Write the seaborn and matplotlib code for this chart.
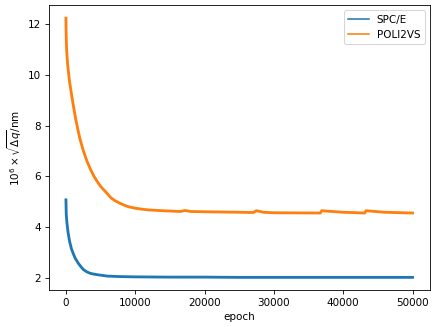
import numpy as np
import pandas as pd
import matplotlib
matplotlib.use("Agg")
import matplotlib.pyplot as plt
import seaborn as sns

# values (epoch, 10^6 x sqrt(dq)/nm)
spce_epoch = [0, 50, 150, 300, 530, 800, 1100, 1330, 1800, 2200, 2520, 3000,
              3500, 4000, 4900, 6000, 8000, 10000, 15000, 20000, 25000, 30000,
              35000, 40000, 45000, 50000]
spce_val = [5.07, 4.48, 4.15, 3.80, 3.43, 3.13, 2.92, 2.77, 2.56, 2.42, 2.32, 2.23,
            2.17, 2.14, 2.10, 2.06, 2.04, 2.03, 2.02, 2.02, 2.01, 2.01,
            2.01, 2.01, 2.01, 2.01]

poli_epoch = [0, 30, 100, 250, 530, 1000, 1470, 2000, 2500, 3000, 3500, 4000,
              4500, 5000, 5850, 6500, 7000, 7750, 8500, 9000, 10000, 11000,
              12000, 14000, 16500, 17200, 18000, 20000, 25000, 27000, 27500,
              28500, 30000, 36700, 36900, 40000, 43100, 43300, 46000, 50000]
poli_val = [12.24, 11.60, 11.00, 10.40, 9.72, 8.90, 8.17, 7.50, 7.02, 6.62, 6.30, 6.02,
            5.80, 5.60, 5.35, 5.15, 5.05, 4.94, 4.85, 4.80, 4.74, 4.70,
            4.67, 4.64, 4.61, 4.65, 4.61, 4.60, 4.58, 4.57, 4.64,
            4.58, 4.56, 4.55, 4.64, 4.58, 4.55, 4.64, 4.58, 4.55]

fig, ax = plt.subplots(figsize=(436 / 75, 327 / 75), dpi=75)

sns.lineplot(x=spce_epoch, y=spce_val, color="C0", linewidth=2.7, label="SPC/E", ax=ax)
sns.lineplot(x=poli_epoch, y=poli_val, color="C1", linewidth=2.7, label="POLI2VS", ax=ax)

leg = ax.legend(loc="upper right")
for h in leg.get_lines():
    h.set_linewidth(1.5)

ax.set_xlabel("epoch")
ax.set_ylabel(r"$10^6 \times \sqrt{\Delta q}$/nm")
ax.set_xticks([0, 10000, 20000, 30000, 40000, 50000])
ax.set_yticks([2, 4, 6, 8, 10, 12])

plt.tight_layout(pad=0.5)
plt.savefig("out.png", dpi=75)
